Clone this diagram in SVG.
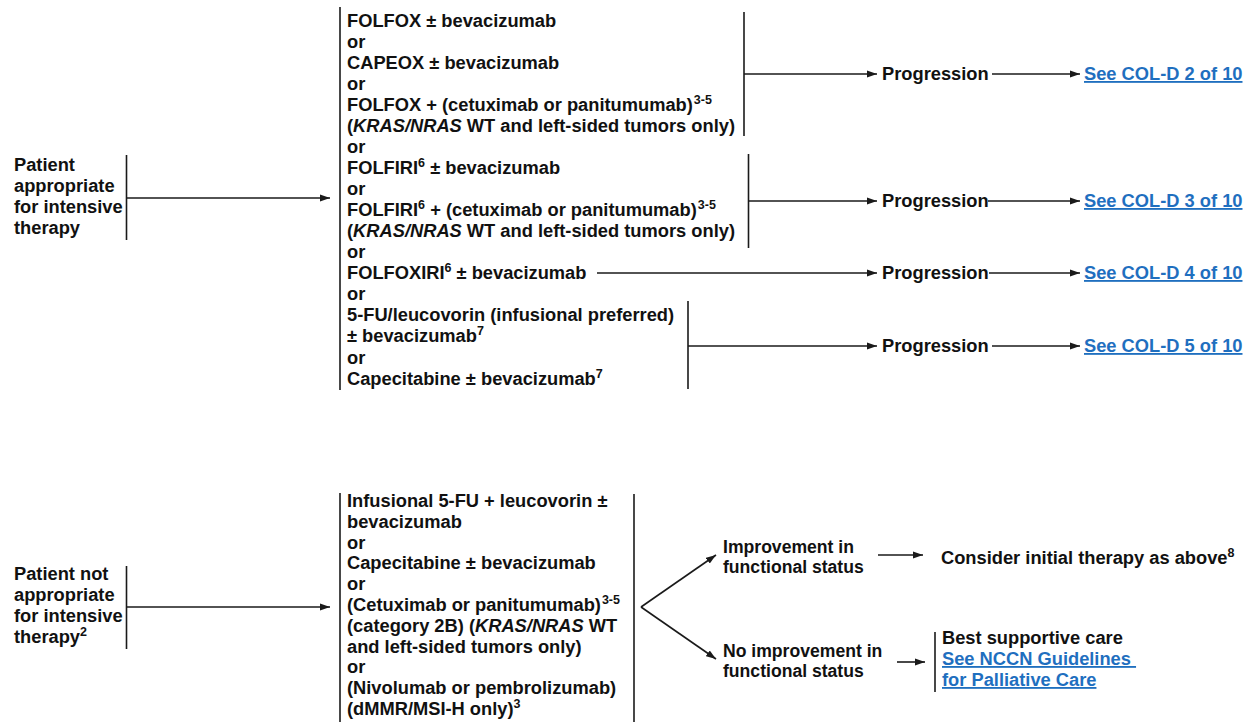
<svg xmlns="http://www.w3.org/2000/svg" width="1249" height="722" viewBox="0 0 1249 722">
  <style>
    text { font-family: "Liberation Sans", Arial, sans-serif; font-weight: bold; font-size: 18.3px; fill: #111; }
    .it { font-style: italic; }
    .sup { font-size: 12.5px; }
    .sm { font-size: 17.6px; }
    .link { fill: #1f6fbf; text-decoration: underline; }
    .bar { stroke: #1a1a1a; stroke-width: 1.6; fill: none; }
    .arrow { stroke: #1a1a1a; stroke-width: 1.6; fill: none; marker-end: url(#ah); }
  </style>
  <defs>
    <marker id="ah" markerUnits="userSpaceOnUse" markerWidth="11" markerHeight="8" refX="10" refY="4" orient="auto">
      <path d="M0,0.5 L10,4 L0,7.5 z" fill="#1a1a1a"/>
    </marker>
  </defs>

  <!-- Intensive therapy branch -->
  <g id="patient-appropriate">
    <text x="14" y="170.5">Patient</text>
    <text x="14" y="191.5">appropriate</text>
    <text x="14" y="212.5">for intensive</text>
    <text x="14" y="233.5">therapy</text>
  </g>

  <g id="intensive-options">
    <text x="347" y="26.5">FOLFOX ± bevacizumab</text>
    <text x="347" y="47.6">or</text>
    <text x="347" y="68.6">CAPEOX ± bevacizumab</text>
    <text x="347" y="89.7">or</text>
    <text x="347" y="110.7">FOLFOX + (cetuximab or panitumumab)<tspan class="sup" dx="1" dy="-7">3-5</tspan></text>
    <text x="347" y="131.8">(<tspan class="it">KRAS/NRAS</tspan> WT and left-sided tumors only)</text>
    <text x="347" y="152.9">or</text>
    <text x="347" y="173.9">FOLFIRI<tspan class="sup" dy="-7">6</tspan><tspan dy="7"> ± bevacizumab</tspan></text>
    <text x="347" y="195">or</text>
    <text x="347" y="216">FOLFIRI<tspan class="sup" dy="-7">6</tspan><tspan dy="7"> + (cetuximab or panitumumab)</tspan><tspan class="sup" dx="1" dy="-7">3-5</tspan></text>
    <text x="347" y="237.1">(<tspan class="it">KRAS/NRAS</tspan> WT and left-sided tumors only)</text>
    <text x="347" y="258.2">or</text>
    <text x="347" y="279.2">FOLFOXIRI<tspan class="sup" dy="-7">6</tspan><tspan dy="7"> ± bevacizumab</tspan></text>
    <text x="347" y="300.3">or</text>
    <text x="347" y="321.3">5-FU/leucovorin (infusional preferred)</text>
    <text x="347" y="342.4">± bevacizumab<tspan class="sup" dy="-7">7</tspan></text>
    <text x="347" y="363.5">or</text>
    <text x="347" y="384.5">Capecitabine ± bevacizumab<tspan class="sup" dy="-7">7</tspan></text>
  </g>

  <g id="progression-1">
    <text x="882" y="80">Progression</text>
  </g>
  <g id="progression-2">
    <text x="882" y="207">Progression</text>
  </g>
  <g id="progression-3">
    <text x="882" y="279">Progression</text>
  </g>
  <g id="progression-4">
    <text x="882" y="352">Progression</text>
  </g>

  <g id="col-d-2"><text class="link" x="1084" y="80">See COL-D 2 of 10</text></g>
  <g id="col-d-3"><text class="link" x="1084" y="207">See COL-D 3 of 10</text></g>
  <g id="col-d-4"><text class="link" x="1084" y="279">See COL-D 4 of 10</text></g>
  <g id="col-d-5"><text class="link" x="1084" y="352">See COL-D 5 of 10</text></g>

  <!-- Non-intensive therapy branch -->
  <g id="patient-not-appropriate">
    <text x="14" y="580">Patient not</text>
    <text x="14" y="601">appropriate</text>
    <text x="14" y="622">for intensive</text>
    <text x="14" y="643">therapy<tspan class="sup" dy="-7">2</tspan></text>
  </g>

  <g id="non-intensive-options">
    <text x="347" y="507">Infusional 5-FU + leucovorin ±</text>
    <text x="347" y="527.8">bevacizumab</text>
    <text x="347" y="548.6">or</text>
    <text x="347" y="569.4">Capecitabine ± bevacizumab</text>
    <text x="347" y="590.2">or</text>
    <text x="347" y="611">(Cetuximab or panitumumab)<tspan class="sup" dx="1" dy="-7">3-5</tspan></text>
    <text x="347" y="631.8">(category 2B) (<tspan class="it">KRAS/NRAS</tspan> WT</text>
    <text x="347" y="652.6">and left-sided tumors only)</text>
    <text x="347" y="673.4">or</text>
    <text x="347" y="694.2">(Nivolumab or pembrolizumab)</text>
    <text x="347" y="715">(dMMR/MSI-H only)<tspan class="sup" dy="-7">3</tspan></text>
  </g>

  <g id="improvement">
    <text class="sm" x="723" y="553">Improvement in</text>
    <text class="sm" x="723" y="573">functional status</text>
  </g>
  <g id="consider-initial">
    <text x="941" y="563.5">Consider initial therapy as above<tspan class="sup" dy="-7">8</tspan></text>
  </g>

  <g id="no-improvement">
    <text class="sm" x="723" y="657">No improvement in</text>
    <text class="sm" x="723" y="677">functional status</text>
  </g>
  <g id="supportive-care">
    <text x="942" y="644">Best supportive care</text>
    <text class="link" x="942" y="665">See NCCN Guidelines&#160;</text>
    <text class="link" x="942" y="686">for Palliative Care</text>
  </g>

  <!-- Connectors -->
  <g id="connectors">
    <!-- top branch -->
    <line class="bar" x1="126.5" y1="155" x2="126.5" y2="240"/>
    <line class="arrow" x1="127" y1="198" x2="330" y2="198"/>
    <line class="bar" x1="340" y1="7" x2="340" y2="390"/>

    <line class="bar" x1="744" y1="12" x2="744" y2="136"/>
    <line class="arrow" x1="744" y1="74" x2="877" y2="74"/>
    <line class="arrow" x1="992" y1="74" x2="1080" y2="74"/>

    <line class="bar" x1="748.5" y1="154" x2="748.5" y2="248"/>
    <line class="arrow" x1="748.5" y1="201" x2="877" y2="201"/>
    <line class="arrow" x1="988" y1="201" x2="1080" y2="201"/>

    <line class="arrow" x1="597" y1="273" x2="877" y2="273"/>
    <line class="arrow" x1="989" y1="273" x2="1080" y2="273"/>

    <line class="bar" x1="688" y1="301" x2="688" y2="389"/>
    <line class="arrow" x1="688" y1="346" x2="877" y2="346"/>
    <line class="arrow" x1="992" y1="346" x2="1080" y2="346"/>

    <!-- bottom branch -->
    <line class="bar" x1="126.5" y1="566" x2="126.5" y2="649"/>
    <line class="arrow" x1="127" y1="607" x2="330" y2="607"/>
    <line class="bar" x1="340" y1="493" x2="340" y2="722"/>
    <line class="bar" x1="634" y1="494" x2="634" y2="722"/>

    <line class="arrow" x1="641" y1="607" x2="716" y2="555"/>
    <line class="arrow" x1="641" y1="607" x2="716" y2="659"/>
    <line class="arrow" x1="878" y1="555" x2="923" y2="555"/>
    <line class="arrow" x1="897" y1="662" x2="925" y2="662"/>
    <line class="bar" x1="935" y1="632" x2="935" y2="692"/>
  </g>
</svg>
